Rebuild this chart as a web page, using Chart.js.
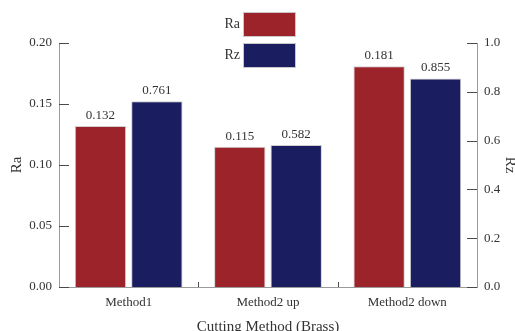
<!DOCTYPE html>
<html>
<head>
<meta charset="utf-8">
<script src="https://cdn.jsdelivr.net/npm/chart.js@4/dist/chart.umd.min.js"></script>
<style>
  html, body { margin: 0; padding: 0; background: #fff; }
  #wrap { width: 515px; height: 331px; }
</style>
</head>
<body>
<div id="wrap"><canvas id="c" width="515" height="331"></canvas></div>
<script>
// Surface roughness by cutting method (brass)
const categories = ['Method1', 'Method2 up', 'Method2 down'];
const raValues = [0.132, 0.115, 0.181];
const rzValues = [0.761, 0.582, 0.855];
const raTicks = [0, 0.05, 0.10, 0.15, 0.20];
const rzTicks = [0, 0.2, 0.4, 0.6, 0.8, 1.0];

const SERIF = '"Liberation Serif", "Times New Roman", serif';
const RED = '#9d232b';
const NAVY = '#1a1d5f';
const AXIS = '#9a9a9a';
const TICK = '#4a4a4a';
const TEXT = '#333333';

// Short tick marks pointing into the plot area
const innerTicks = {
  id: 'innerTicks',
  afterDraw(chart) {
    const ctx = chart.ctx;
    const {y, y1, x} = chart.scales;
    ctx.save();
    ctx.strokeStyle = TICK;
    ctx.lineWidth = 1;
    ctx.beginPath();
    raTicks.forEach(v => {
      const py = Math.round(y.getPixelForValue(v)) + 0.5;
      ctx.moveTo(y.right, py); ctx.lineTo(y.right + 10, py);
    });
    rzTicks.forEach(v => {
      const py = Math.round(y1.getPixelForValue(v)) + 0.5;
      ctx.moveTo(y1.left, py); ctx.lineTo(y1.left - 10, py);
    });
    for (let i = 0; i < categories.length - 1; i++) {
      const px = Math.round((x.getPixelForTick(i) + x.getPixelForTick(i + 1)) / 2) + 0.5;
      ctx.moveTo(px, x.top); ctx.lineTo(px, x.top - 5);
    }
    ctx.stroke();
    ctx.restore();
  }
};

// Value labels above each bar
const valueLabels = {
  id: 'valueLabels',
  afterDatasetsDraw(chart) {
    const ctx = chart.ctx;
    ctx.save();
    ctx.font = '13px ' + SERIF;
    ctx.fillStyle = TEXT;
    ctx.textAlign = 'center';
    ctx.textBaseline = 'bottom';
    chart.data.datasets.forEach((ds, di) => {
      const meta = chart.getDatasetMeta(di);
      meta.data.forEach((bar, i) => {
        ctx.fillText(ds.data[i].toFixed(3), bar.x, bar.y - 4);
      });
    });
    ctx.restore();
  }
};

// Legend: label on the left, wide colour swatch on the right, stacked
const boxLegend = {
  id: 'boxLegend',
  afterDraw(chart) {
    const ctx = chart.ctx;
    ctx.save();
    ctx.font = '14px ' + SERIF;
    ctx.textAlign = 'right';
    ctx.textBaseline = 'middle';
    const bx = 243, bw = 53, bh = 25, gap = 6, top0 = 12;
    chart.data.datasets.forEach((ds, i) => {
      const by = top0 + i * (bh + gap);
      ctx.fillStyle = ds.backgroundColor;
      ctx.fillRect(bx, by, bw, bh);
      ctx.strokeStyle = '#c8c8c8';
      ctx.lineWidth = 1;
      ctx.strokeRect(bx + 0.5, by + 0.5, bw - 1, bh - 1);
      ctx.fillStyle = TEXT;
      ctx.fillText(ds.label, bx - 3, by + bh / 2);
    });
    ctx.restore();
  }
};

new Chart(document.getElementById('c'), {
  type: 'bar',
  data: {
    labels: categories,
    datasets: [
      { label: 'Ra', data: raValues, yAxisID: 'y', backgroundColor: RED,
        borderColor: '#cfcfcf', borderWidth: 1,
        categoryPercentage: 0.81, barPercentage: 0.91 },
      { label: 'Rz', data: rzValues, yAxisID: 'y1', backgroundColor: NAVY,
        borderColor: '#cfcfcf', borderWidth: 1,
        categoryPercentage: 0.81, barPercentage: 0.91 }
    ]
  },
  options: {
    responsive: false,
    animation: false,
    devicePixelRatio: 1,
    layout: { padding: { top: 43, left: 0, right: 0, bottom: 0 } },
    plugins: { legend: { display: false }, tooltip: { enabled: false } },
    scales: {
      x: {
        grid: { display: false, drawTicks: false },
        border: { display: true, color: AXIS, width: 1 },
        ticks: { color: TEXT, font: { family: SERIF, size: 13 }, padding: 8 },
        title: { display: true, text: 'Cutting Method (Brass)', color: TEXT,
                 font: { family: SERIF, size: 15, lineHeight: 1 }, padding: { top: 0, bottom: -4 } },
        afterFit(s) { s.height = 44; }
      },
      y: {
        position: 'left',
        min: 0, max: 0.2,
        grid: { display: false, drawTicks: false },
        border: { display: true, color: AXIS, width: 1 },
        ticks: { stepSize: 0.05, color: TEXT, font: { family: SERIF, size: 13 }, padding: 7,
                 callback: v => v.toFixed(2) },
        title: { display: true, text: 'Ra', color: TEXT,
                 font: { family: SERIF, size: 15, lineHeight: 1 }, padding: { top: 10, bottom: 0 } },
        afterFit(s) { s.width = 59; }
      },
      y1: {
        position: 'right',
        min: 0, max: 1,
        grid: { display: false, drawTicks: false },
        border: { display: true, color: AXIS, width: 1 },
        ticks: { stepSize: 0.2, color: TEXT, font: { family: SERIF, size: 13 }, padding: 7,
                 callback: v => v.toFixed(1) },
        title: { display: true, text: 'Rz', color: TEXT,
                 font: { family: SERIF, size: 15, lineHeight: 1 }, padding: { top: -2, bottom: 0 } },
        afterFit(s) { s.width = 38; }
      }
    }
  },
  plugins: [innerTicks, valueLabels, boxLegend]
});
</script>
</body>
</html>
